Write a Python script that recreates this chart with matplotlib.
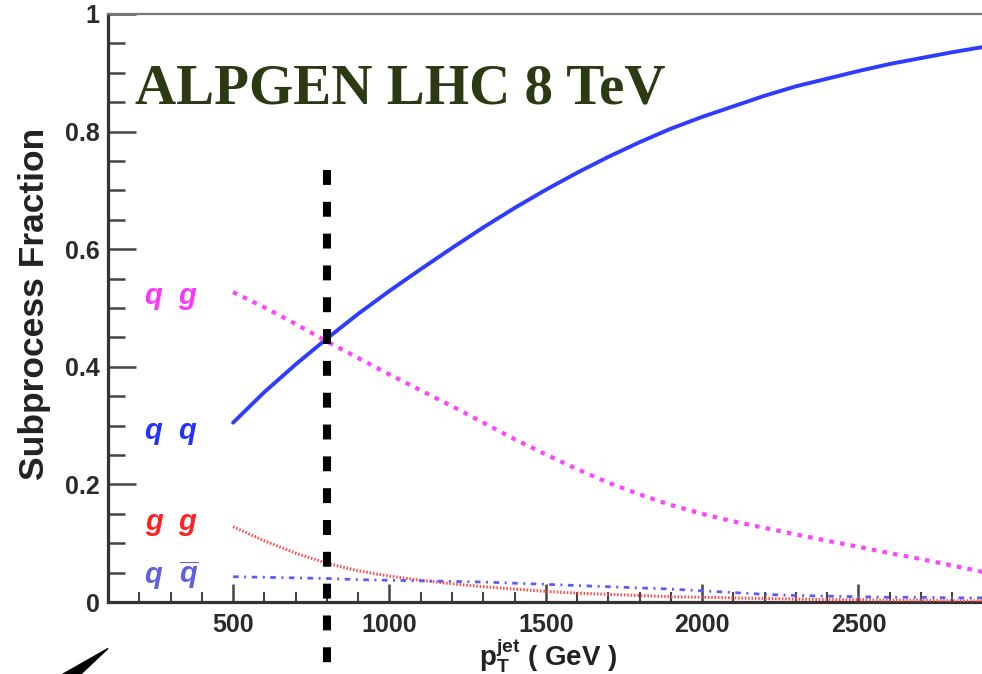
import matplotlib
matplotlib.use("Agg")
import matplotlib.pyplot as plt
from matplotlib.ticker import MultipleLocator, FuncFormatter

# ---- data ----
pt = [500, 600, 700, 800, 900, 1000, 1100, 1200, 1300, 1400, 1500, 1600, 1700,
      1800, 1900, 2000, 2100, 2200, 2300, 2400, 2500, 2600, 2700, 2800, 2900]
frac_qq = [0.305, 0.357, 0.404, 0.448, 0.49, 0.529, 0.566, 0.602, 0.637, 0.670, 0.701,
           0.730, 0.757, 0.782, 0.805, 0.825, 0.843, 0.861, 0.877, 0.89, 0.903,
           0.915, 0.925, 0.935, 0.944]
frac_qg = [0.527, 0.501, 0.473, 0.443, 0.415, 0.387, 0.36, 0.333, 0.305, 0.277, 0.251,
           0.226, 0.203, 0.183, 0.165, 0.150, 0.137, 0.126, 0.115, 0.104, 0.094,
           0.083, 0.073, 0.062, 0.051]
frac_gg = [0.128, 0.104, 0.083, 0.066, 0.053, 0.044, 0.037, 0.031, 0.026, 0.022, 0.018,
           0.015, 0.013, 0.011, 0.009, 0.008, 0.007, 0.006, 0.005, 0.004, 0.004,
           0.003, 0.003, 0.002, 0.002]
frac_qqbar = [0.043, 0.042, 0.041, 0.040, 0.038, 0.037, 0.036, 0.035, 0.034, 0.032, 0.030,
              0.028, 0.026, 0.024, 0.022, 0.019, 0.016, 0.013, 0.011, 0.010, 0.009,
              0.008, 0.008, 0.007, 0.007]
cut_pt = 800
cut_top = 0.735
cut_bottom = -0.125

title_text = "ALPGEN LHC 8 TeV"
ylabel_text = "Subprocess Fraction"

plt.rcParams['mathtext.fontset'] = 'custom'
plt.rcParams['mathtext.it'] = 'Liberation Sans:bold:italic'
plt.rcParams['mathtext.bf'] = 'Liberation Sans:bold'
plt.rcParams['mathtext.rm'] = 'Liberation Sans:bold'

fig = plt.figure(figsize=(9.82, 6.74), dpi=100)
ax = fig.add_axes([108/982, 1-602/674, 1-108/982, (602-14)/674])
ax.set_xlim(100, 2895)
ax.set_ylim(0, 1)

ax.plot(pt, frac_qq, color='#2f3cff', lw=2.8, solid_capstyle='round', zorder=3)
ax.plot(pt, frac_qg, color='#ff44ff', lw=3.0, linestyle=(0, (1.1, 1.5)), zorder=3)
ax.plot(pt, frac_gg, color='#ff4848', lw=2.2, linestyle=(0, (0.5, 0.6)), zorder=3)
ax.plot(pt, frac_qqbar, color='#5a5aff', lw=2.0, linestyle=(0, (2.0, 2.0, 0.7, 2.0)), zorder=3)

ax.plot([cut_pt, cut_pt], [cut_top, cut_bottom], color='black', lw=5.8,
        linestyle=(0, (1.85, 2.1)), clip_on=False, zorder=4)

# spines
for s in ['left', 'bottom']:
    ax.spines[s].set_linewidth(2.3)
    ax.spines[s].set_color('#333333')
ax.spines['top'].set_linewidth(1.6)
ax.spines['top'].set_color('#777777')
ax.spines['right'].set_visible(False)

ax.xaxis.set_major_locator(MultipleLocator(500))
ax.xaxis.set_minor_locator(MultipleLocator(100))
ax.yaxis.set_major_locator(MultipleLocator(0.2))
ax.yaxis.set_minor_locator(MultipleLocator(0.05))
ax.yaxis.set_major_formatter(FuncFormatter(lambda v, p: '%g' % round(v, 2)))
ax.tick_params(axis='y', which='major', direction='in', length=20, width=1.8, color='#444444',
               labelsize=18, pad=6, labelcolor='#2a2a2a')
ax.tick_params(axis='y', which='minor', direction='in', length=12, width=1.8, color='#444444')
ax.tick_params(axis='x', which='major', direction='in', length=13, width=1.8, color='#444444',
               labelsize=18, pad=8, labelcolor='#2a2a2a', top=False)
ax.tick_params(axis='x', which='minor', direction='in', length=7, width=1.5, color='#444444', top=False)
ax.set_xticks([500, 1000, 1500, 2000, 2500])
for lab in ax.get_xticklabels() + ax.get_yticklabels():
    lab.set_fontweight('bold')
    lab.set_family('Liberation Sans')

ax.text(186, 0.848, title_text, family='Liberation Serif', fontweight='bold', fontsize=41,
        color='#2b3a12', va='baseline', ha='left')

lab_kw = dict(fontsize=21, ha='center', va='center', family='Liberation Sans',
              fontweight='bold', style='italic')
ax.text(302, 0.52, "q  g", color='#ff33ff', **lab_kw)
ax.text(302, 0.29, "q  q", color='#2233ff', **lab_kw)
ax.text(302, 0.136, "g  g", color='#ff2222', **lab_kw)
ax.text(302, 0.046, r"$q\ \ \overline{q}$", color='#6060e0', fontsize=21, ha='center', va='center')

fig.text(35/982, 1-304/674, ylabel_text, rotation=90, ha='center', va='center',
         family='Liberation Sans', fontweight='bold', fontsize=25.5, color='#222222')
fig.text(548/982, 1-656/674, r"$\mathbf{p}_{\mathbf{T}}^{\mathbf{jet}}$ ( GeV )",
         ha='center', va='center', family='Liberation Sans', fontweight='bold',
         fontsize=20, color='#222222')

# hand-drawn arrow in lower-left corner
ax.annotate("", xy=(110/982, 1-647/674), xycoords='figure fraction',
            xytext=(45/982, 1-695/674), textcoords='figure fraction',
            arrowprops=dict(arrowstyle='wedge,tail_width=1.3', fc='black', ec='black'))

fig.savefig('out.png', dpi=100)
